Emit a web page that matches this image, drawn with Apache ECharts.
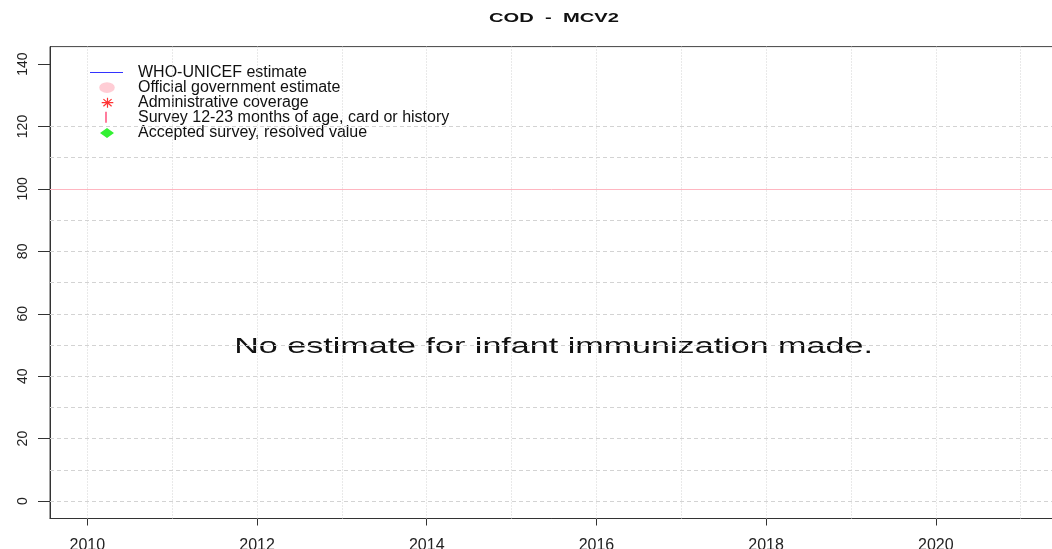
<!DOCTYPE html>
<html><head><meta charset="utf-8">
<script src="https://cdn.jsdelivr.net/npm/echarts@6/dist/echarts.min.js"></script>
<style>html,body{margin:0;padding:0;background:#fff}#c{width:1052px;height:549px}</style>
</head><body><div id="c"></div>
<script>
// ---- data ----
const years = [2010,2011,2012,2013,2014,2015,2016,2017,2018,2019,2020,2021];
const xTickYears = [2010,2012,2014,2016,2018,2020];
const yTicks = [0,20,40,60,80,100,120,140];
const yGridValues = [0,10,20,30,40,50,60,70,80,90,110,120];
const targetValues = [100];
const whoUnicefEstimate = [];
const officialEstimate = [];
const adminCoverage = [];
const surveyCardHistory = [];
const acceptedSurvey = [];
const seriesNames = ['WHO-UNICEF estimate','Official government estimate','Administrative coverage','Survey 12-23 months of age, card or history','Accepted survey, resolved value'];
const titleText = 'COD  -  MCV2';
const messageText = 'No estimate for infant immunization made.';

// ---- legend icons (drawn in a 43x12 box) ----
const pad = 'M0 0Z M43 12Z ';
const icons = [
  pad + 'M0 5.5H33V6.5H0Z',
  pad + 'M9.2 6A7.8 5.3 0 1 0 24.8 6A7.8 5.3 0 1 0 9.2 6Z',
  pad + 'M11.7 5.4H23.3V6.6H11.7Z M16.9 1H18.1V11H16.9Z M13.8 1.95L22 9.15L21.2 10.05L13 2.85Z M21.2 1.95L22 2.85L13.8 10.05L13 9.15Z',
  pad + 'M15.2 0H16.8V11H15.2Z',
  pad + 'M10 6L17 1L24 6L17 11Z'
];
const colors = ['#0000ff','#ffc0cb','#ff0000','#ff3366','#00ee00'];
const seriesData = [whoUnicefEstimate, officialEstimate, adminCoverage, surveyCardHistory, acceptedSurvey];

const chart = echarts.init(document.getElementById('c'), null, {renderer:'canvas'});
const series = seriesNames.map((n,i)=>({
  name:n, type:'scatter', data:seriesData[i], itemStyle:{color:colors[i]}, silent:true
}));
series.push({
  name:'grid', type:'scatter', data:[], silent:true,
  markLine:{silent:true, symbol:['none','none'], label:{show:false}, animation:false,
    emphasis:{disabled:true},
    data: years.map(y=>({xAxis:y, lineStyle:{type:[1,2], color:'#d3d3d3', width:1}}))
      .concat(yGridValues.map(v=>({yAxis:v, lineStyle:{type:[4,3], color:'#d3d3d3', width:1}})))
      .concat(targetValues.map(v=>({yAxis:v, lineStyle:{type:'solid', color:'#ffb6c1', width:1}})))
  }
});

chart.setOption({
  animation:false,
  backgroundColor:'#fff',
  grid:{left:50, top:46.6, right:-6, bottom:30.5, show:true, borderColor:'#444', borderWidth:1, outerBoundsMode:'none', containLabel:false},
  xAxis:{type:'value', min:2009.56, max:2021.44,
    axisLine:{show:true, onZero:false, lineStyle:{color:'#333', width:1}},
    axisTick:{show:true, length:7, customValues:xTickYears, lineStyle:{color:'#333'}},
    axisLabel:{customValues:xTickYears, formatter:v=>String(v), fontFamily:'Liberation Sans', fontSize:16, color:'#222', margin:19},
    splitLine:{show:false}},
  yAxis:{type:'value', min:-5.6, max:145.6,
    axisLine:{show:true, onZero:false, lineStyle:{color:'#333', width:1}},
    axisTick:{show:true, length:12, customValues:yTicks, lineStyle:{color:'#333'}},
    axisLabel:{customValues:yTicks, rotate:90, fontFamily:'Liberation Sans', fontSize:14, color:'#222', margin:20},
    splitLine:{show:false}},
  legend:{orient:'vertical', left:90, top:64.5, padding:0, itemGap:-0.9, itemWidth:43, itemHeight:12,
    selectedMode:false,
    textStyle:{fontFamily:'Liberation Sans', fontSize:16, color:'#111', lineHeight:16},
    data: seriesNames.map((n,i)=>({name:n, icon:'path://'+icons[i]}))},
  graphic:[
    {type:'text', x:554, y:18.5, scaleX:1.55, silent:true,
      style:{x:0, y:0, text:titleText, align:'center', verticalAlign:'middle', font:'bold 13px "Liberation Sans"', fill:'#111'}},
    {type:'text', x:553.5, y:347, scaleX:1.55, silent:true,
      style:{x:0, y:0, text:messageText, align:'center', verticalAlign:'middle', font:'22px "Liberation Sans"', fill:'#111'}}
  ],
  series:series
});
</script></body></html>
